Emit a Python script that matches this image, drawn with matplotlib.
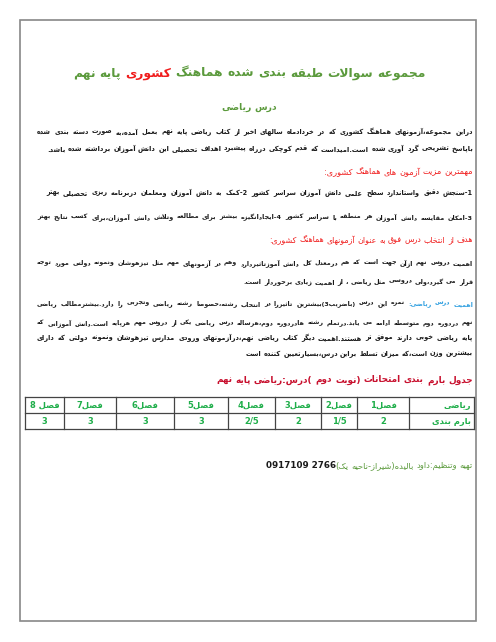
import re
import matplotlib
matplotlib.use("Agg")
import matplotlib.pyplot as plt
from matplotlib.patches import Rectangle

# ---------------- minimal Arabic/Persian shaping ----------------
FORMS = {
 'ا':(0xFE8D,0xFE8E,None,None),'آ':(0xFE81,0xFE82,None,None),'أ':(0xFE83,0xFE84,None,None),
 'ب':(0xFE8F,0xFE90,0xFE91,0xFE92),'پ':(0xFB56,0xFB57,0xFB58,0xFB59),
 'ت':(0xFE95,0xFE96,0xFE97,0xFE98),'ث':(0xFE99,0xFE9A,0xFE9B,0xFE9C),
 'ج':(0xFE9D,0xFE9E,0xFE9F,0xFEA0),'چ':(0xFB7A,0xFB7B,0xFB7C,0xFB7D),
 'ح':(0xFEA1,0xFEA2,0xFEA3,0xFEA4),'خ':(0xFEA5,0xFEA6,0xFEA7,0xFEA8),
 'د':(0xFEA9,0xFEAA,None,None),'ذ':(0xFEAB,0xFEAC,None,None),
 'ر':(0xFEAD,0xFEAE,None,None),'ز':(0xFEAF,0xFEB0,None,None),'ژ':(0xFB8A,0xFB8B,None,None),
 'س':(0xFEB1,0xFEB2,0xFEB3,0xFEB4),'ش':(0xFEB5,0xFEB6,0xFEB7,0xFEB8),
 'ص':(0xFEB9,0xFEBA,0xFEBB,0xFEBC),'ض':(0xFEBD,0xFEBE,0xFEBF,0xFEC0),
 'ط':(0xFEC1,0xFEC2,0xFEC3,0xFEC4),'ظ':(0xFEC5,0xFEC6,0xFEC7,0xFEC8),
 'ع':(0xFEC9,0xFECA,0xFECB,0xFECC),'غ':(0xFECD,0xFECE,0xFECF,0xFED0),
 'ف':(0xFED1,0xFED2,0xFED3,0xFED4),'ق':(0xFED5,0xFED6,0xFED7,0xFED8),
 'ک':(0xFB8E,0xFB8F,0xFB90,0xFB91),'گ':(0xFB92,0xFB93,0xFB94,0xFB95),
 'ل':(0xFEDD,0xFEDE,0xFEDF,0xFEE0),'م':(0xFEE1,0xFEE2,0xFEE3,0xFEE4),
 'ن':(0xFEE5,0xFEE6,0xFEE7,0xFEE8),'ه':(0xFEE9,0xFEEA,0xFEEB,0xFEEC),
 'و':(0xFEED,0xFEEE,None,None),'ی':(0xFBFC,0xFBFD,0xFBFE,0xFBFF),
 'ئ':(0xFE89,0xFE8A,0xFE8B,0xFE8C),
}
LAMALEF = {'ا':(0xFEFB,0xFEFC),'آ':(0xFEF5,0xFEF6),'أ':(0xFEF7,0xFEF8)}

def dual(c):
    return c in FORMS and FORMS[c][2] is not None

def shape(s):
    out = []
    i = 0
    n = len(s)
    while i < n:
        c = s[i]
        if c not in FORMS:
            out.append(c); i += 1; continue
        prev = s[i-1] if i > 0 else ''
        cp = dual(prev)
        if c == 'ل' and i+1 < n and s[i+1] in LAMALEF:
            iso, fin = LAMALEF[s[i+1]]
            out.append(chr(fin if cp else iso)); i += 2; continue
        nxt = s[i+1] if i+1 < n else ''
        cn = dual(c) and nxt in FORMS
        f = FORMS[c]
        if cp and cn: code = f[3]
        elif cp: code = f[1]
        elif cn: code = f[2]
        else: code = f[0]
        out.append(chr(code)); i += 1
    return ''.join(out)

MIRROR = {'(': ')', ')': '('}
def visual(s):
    r = shape(s)[::-1]
    r = ''.join(MIRROR.get(ch, ch) for ch in r)
    r = re.sub(r'[0-9/]+', lambda m: m.group(0)[::-1], r)
    return r

# ---------------- data ----------------
GREEN = '#5b9a3c'; RED = '#f01c1c'; BLUE = '#2f9fe0'; DRED = '#c8102e'; TGREEN = '#1fae4a'; BLACK = '#1a1a1a'

title_parts = [("مجموعه سوالات طبقه بندی شده هماهنگ ", GREEN), ("کشوری", RED), (" پایه نهم", GREEN)]
subtitle = "درس ریاضی"
body = [  # (y px, segments, justified, width px, weight)
 (132, [("دراین مجموعه،آزمونهای هماهنگ کشوری که در خردادماه سالهای اخیر از کتاب ریاضی پایه نهم بعمل آمده،به صورت دسته بندی شده", BLACK)], True, 436, 'bold'),
 (149, [("باپاسخ تشریحی گرد آوری شده است.امیداست که قدم کوچکی درراه پیشبرد اهداف تحصیلی این دانش آموزان برداشته شده باشد.", BLACK)], False, 425, 'bold'),
 (172, [("مهمترین مزیت آزمون های هماهنگ کشوری:", RED)], False, 148, 'normal'),
 (193, [("1-سنجش دقیق واستاندارد سطح علمی دانش آموزان سراسر کشور 2-کمک به دانش آموزان ومعلمان دربرنامه ریزی تحصیلی بهتر", BLACK)], True, 427, 'bold'),
 (217, [("3-امکان مقایسه دانش آموزان هر منطقه با سراسر کشور 4-ایجادانگیزه بیشتر برای مطالعه وتلاش دانش آموزان،برای کسب نتایج بهتر", BLACK)], True, 436, 'bold'),
 (240, [("هدف از انتخاب درس فوق به عنوان آزمونهای هماهنگ کشوری:", RED)], False, 205, 'normal'),
 (263, [("اهمیت دروس نهم ازآن جهت است که هم درمعدل کل دانش آموزتاثیردارد وهم در آزمونهای مهم مثل تیزهوشان ونمونه دولتی مورد توجه", BLACK)], True, 436, 'bold'),
 (282, [("قرار می گیرد،ولی دروسی مثل ریاضی ، از اهمیت زیادی برخوردار است.", BLACK)], False, 230, 'bold'),
 (304, [("اهمیت درس ریاضی:", BLUE), ("نمره این درس (باضریب3)بیشترین تاثیررا در انتخاب رشته،خصوصا رشته ریاضی وتجربی را دارد.بیشترمطالب ریاضی", BLACK)], True, 436, 'bold'),
 (323, [("نهم دردوره دوم متوسطه ادامه می یابد.درتمام رشته هادردوره دوم،هرساله درس ریاضی یکی از دروس مهم هرپایه است.دانش آموزانی که", BLACK)], True, 436, 'bold'),
 (338, [("پایه ریاضی خوبی دارند موفق تر هستند.اهمیت دیگر کتاب ریاضی نهم،درآزمونهای ورودی مدارس تیزهوشان ونمونه دولتی که دارای", BLACK)], True, 436, 'bold'),
 (354, [("بیشترین وزن است،که میزان تسلط براین درس،بسیارتعیین کننده است", BLACK)], False, 231, 'bold'),
]
table_title = "جدول بارم بندی امتحانات (نوبت دوم )درس:ریاضی پایه نهم"
row_labels = ["ریاضی", "بارم بندی"]
chapters = ["فصل1", "فصل2", "فصل3", "فصل4", "فصل5", "فصل6", "فصل7", "فصل 8"]
scores = ["2", "1/5", "2", "2/5", "3", "3", "3", "3"]
signature = "تهیه وتنظیم:داود بالیده(شیراز-ناحیه یک)"
phone = "0917109 2766"

# ---------------- drawing ----------------
W, H = 496, 642
fig = plt.figure(figsize=(W/100, H/100), dpi=100)
ax = fig.add_axes([0, 0, 1, 1])
ax.set_xlim(0, W); ax.set_ylim(H, 0); ax.axis('off')
fig.canvas.draw()
rend = fig.canvas.get_renderer()
FAM = 'DejaVu Sans'

ax.add_patch(Rectangle((20, 20), 456, 601, fill=False, ec='#888888', lw=1.2))

def measure(s, size, weight):
    t = ax.text(0, 0, s, fontsize=size, fontweight=weight, family=FAM)
    w = t.get_window_extent(renderer=rend).width
    t.remove()
    return w

def words_of(segs):
    ws = []
    for s, col in segs:
        for w in s.split(' '):
            if w:
                ws.append((visual(w), col))
    return ws

def space_w(size, weight):
    return measure('a a', size, weight) - measure('aa', size, weight)

def draw_line(segs, xr, y, size, weight, target=None):
    ws = words_of(segs)
    widths = [measure(w, size, weight) for w, _ in ws]
    gap = space_w(size, weight)
    if target is not None and len(ws) > 1:
        gap = (target - sum(widths)) / (len(ws) - 1)
    x = xr
    for (w, col), wd in zip(ws, widths):
        ax.text(x, y, w, ha='right', va='center', fontsize=size, color=col,
                fontweight=weight, family=FAM)
        x -= wd + gap
    return x + gap

def natural_width(segs, size, weight):
    ws = words_of(segs)
    return sum(measure(w, size, weight) for w, _ in ws) + space_w(size, weight) * (len(ws) - 1)

def fit_size(segs, target, weight, base=10.0):
    return base * target / natural_width(segs, base, weight)

# title
ts = fit_size(title_parts, 354, 'bold')
draw_line(title_parts, 426, 73, ts, 'bold')
ss = fit_size([(subtitle, GREEN)], 56, 'bold')
draw_line([(subtitle, GREEN)], 277, 107, ss, 'bold')

for y, segs, just, width, wgt in body:
    if just:
        sz = min(6.6, fit_size(segs, width * 0.97, wgt))
        draw_line(segs, 473, y, sz, wgt, target=width)
    else:
        sz = min(7.0, fit_size(segs, width, wgt))
        draw_line(segs, 473, y, sz, wgt)

tts = fit_size([(table_title, DRED)], 260, 'bold')
draw_line([(table_title, DRED)], 473, 380, tts, 'bold')

# table
xs = [474, 409, 357, 321, 275, 228, 174, 116, 64, 25]
ys = [397, 413, 429]
for x in xs:
    ax.plot([x, x], [ys[0], ys[-1]], color='#444444', lw=0.9)
for y in ys:
    ax.plot([xs[-1], xs[0]], [y, y], color='#444444', lw=0.9)
ax.text(xs[0]-3, 405, visual(row_labels[0]), ha='right', va='center', fontsize=6.0, color=TGREEN, fontweight='bold', family=FAM)
ax.text(xs[0]-3, 421, visual(row_labels[1]), ha='right', va='center', fontsize=6.0, color=TGREEN, fontweight='bold', family=FAM)
for i, (c, s) in enumerate(zip(chapters, scores)):
    cx = (xs[i+1] + xs[i+2]) / 2
    ax.text(cx, 405, visual(c), ha='center', va='center', fontsize=6.0, color=TGREEN, fontweight='bold', family=FAM)
    ax.text(cx, 421, s, ha='center', va='center', fontsize=6.0, color=TGREEN, fontweight='bold', family=FAM)

xl = draw_line([(signature, GREEN)], 473, 466, 6.0, 'normal')
ax.text(xl, 466, phone, ha='right', va='center', fontsize=6.3, color=BLACK, fontweight='bold', family=FAM)

fig.savefig("out.png", dpi=100)
